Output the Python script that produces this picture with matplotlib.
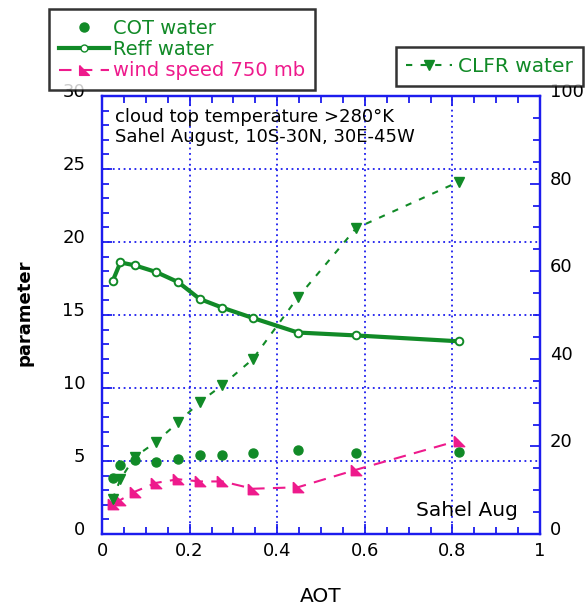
import matplotlib
matplotlib.use('Agg')
import matplotlib.pyplot as plt
from matplotlib.ticker import MultipleLocator
from matplotlib.lines import Line2D
from matplotlib.transforms import ScaledTranslation

# ---- data ----
aot = [0.024, 0.042, 0.075, 0.123, 0.174, 0.223, 0.275, 0.344, 0.447, 0.580, 0.814]
cot_water = [3.85, 4.7, 5.1, 4.9, 5.15, 5.4, 5.4, 5.55, 5.75, 5.55, 5.6]
reff_water = [17.3, 18.6, 18.4, 17.95, 17.25, 16.1, 15.5, 14.8, 13.8, 13.6, 13.2]
clfr_water = [7.9, 12.5, 17.6, 21.0, 25.5, 30.1, 34.0, 39.9, 54.0, 69.8, 80.4]
wind_750 = [2.05, 2.33, 2.9, 3.5, 3.75, 3.6, 3.6, 3.1, 3.2, 4.4, 6.4]

left_ticks = [0, 5, 10, 15, 20, 25, 30]
right_ticks = [0, 20, 40, 60, 80, 100]
x_ticks = [0, 0.2, 0.4, 0.6, 0.8, 1]

green = '#118a27'
pink = '#ee1a8c'
blue = '#1c1cee'

plt.rcParams['font.family'] = ['DejaVu Sans']

fig = plt.figure(figsize=(5.87, 6.06), dpi=100)
ax = fig.add_axes([102/587, 1-534/606, 438/587, 438/606])
ax2 = ax.twinx()

wind_marker = [(-1, 1), (-1, -1), (1, -1), (-1, 1)]

ax.plot(aot, cot_water, linestyle='none', marker='o', ms=6.5, color=green,
        zorder=4, label='COT water')
ax.plot(aot, reff_water, '-', color=green, lw=3, marker='o', ms=5.5,
        mfc='white', mec=green, mew=1.4, zorder=3, label='Reff water')
ax.plot(aot, wind_750, color=pink, lw=1.5, dashes=(6, 4), marker=wind_marker,
        ms=7.5, mfc=pink, mec=pink, zorder=3, label='wind speed 750 mb')
ax2.plot(aot, clfr_water, color=green, lw=1.5, dashes=(3, 4), marker='v',
         ms=6.5, mfc=green, mec=green, zorder=3, label='CLFR water')

ax.set_xlim(0, 1)
ax.set_ylim(0, 30)
ax2.set_ylim(0, 100)

ax.set_xticks(x_ticks)
ax.set_xticklabels(['0', '0.2', '0.4', '0.6', '0.8', '1'])
ax.set_yticks(left_ticks)
ax2.set_yticks(right_ticks)
ax.xaxis.set_minor_locator(MultipleLocator(0.05))
ax.yaxis.set_minor_locator(MultipleLocator(1))
ax2.yaxis.set_minor_locator(MultipleLocator(5))

ax.grid(True, which='major', color=blue, linestyle=(0, (1, 2)), lw=1.3)

for a in (ax, ax2):
    for s in a.spines.values():
        s.set_color(blue)
        s.set_linewidth(1.6)

ax.tick_params(which='both', direction='in', color=blue, top=True, right=False,
               labelsize=13, width=1.3)
ax.tick_params(which='major', length=7)
ax.tick_params(which='minor', length=5)
ax.tick_params(axis='y', pad=12)
ax.tick_params(axis='x', pad=5.5)
ax2.tick_params(which='both', direction='in', color=blue, labelsize=13, width=1.3, pad=7)
ax2.tick_params(which='major', length=7)
ax2.tick_params(which='minor', length=5)

# y tick labels sit a little above their ticks in the reference
shift = ScaledTranslation(0, 6/100, fig.dpi_scale_trans)
for lab in ax.get_yticklabels() + ax2.get_yticklabels():
    lab.set_transform(lab.get_transform() + shift)

ax.set_xlabel('AOT', fontsize=14.5)
ax.xaxis.set_label_coords(0.5, -0.121)
ax.set_ylabel('parameter', fontsize=13, fontweight='bold')
ax.yaxis.set_label_coords(-0.1575, 0.505)

ax.text(0.03, 0.972, 'cloud top temperature >280°K\nSahel August, 10S-30N, 30E-45W',
        transform=ax.transAxes, fontsize=13, va='top', ha='left', linespacing=1.15)
ax.text(0.95, 0.04, 'Sahel Aug', transform=ax.transAxes, fontsize=14.5,
        ha='right', va='baseline')

h1 = [Line2D([], [], linestyle='none', marker='o', ms=6.5, color=green),
      Line2D([], [], color=green, lw=3, marker='o', ms=5, mfc='white', mec=green),
      Line2D([], [], color=pink, lw=1.5, dashes=(6, 4), marker=wind_marker, ms=7,
             mfc=pink, mec=pink)]
leg1 = fig.legend(h1, ['COT water', 'Reff water', 'wind speed 750 mb'],
                  loc='upper left', bbox_to_anchor=(49/587, 1-9/606),
                  fontsize=14, frameon=True, fancybox=False, borderaxespad=0,
                  handlelength=2.6, handletextpad=0.2, labelspacing=0.12,
                  borderpad=0.5)
leg1.get_frame().set_edgecolor('black')
leg1.get_frame().set_linewidth(1.8)
for t in leg1.get_texts()[:2]:
    t.set_color(green)
leg1.get_texts()[2].set_color(pink)

h2 = [Line2D([], [], color=green, lw=1.5, dashes=(3, 4), marker='v', ms=6.5,
             mfc=green, mec=green)]
leg2 = fig.legend(h2, ['CLFR water'], loc='upper left',
                  bbox_to_anchor=(396/587, 1-47/606), fontsize=14.5,
                  frameon=True, fancybox=False, borderaxespad=0,
                  handlelength=2.3, handletextpad=0.3, borderpad=0.5)
leg2.get_frame().set_edgecolor('black')
leg2.get_frame().set_linewidth(1.8)
leg2.get_texts()[0].set_color(green)

fig.savefig('out.png', dpi=100)
